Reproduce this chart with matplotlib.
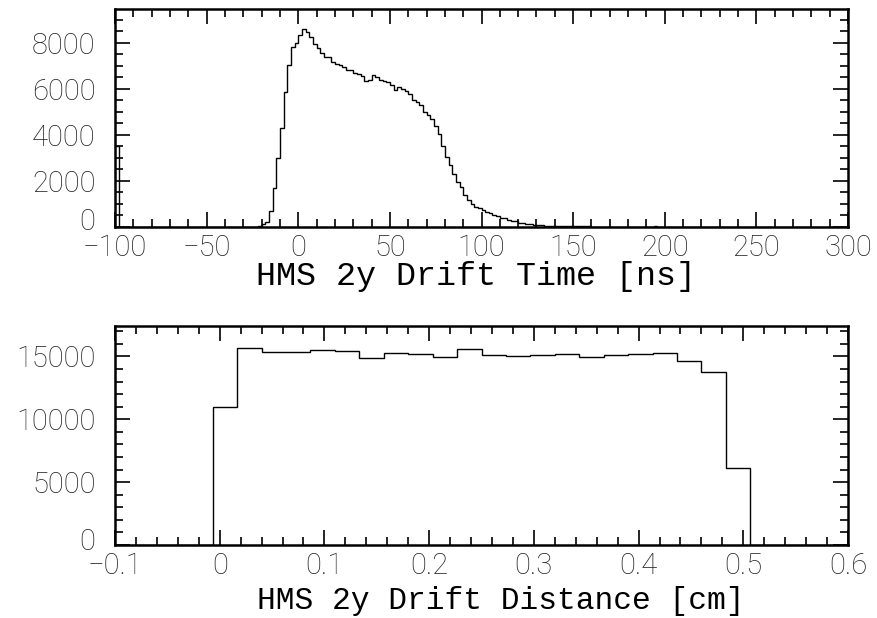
import numpy as np
import matplotlib
matplotlib.use("Agg")
import matplotlib.pyplot as plt
import matplotlib.transforms as mtrans
from matplotlib.ticker import MultipleLocator

# ---------------- data ----------------
time_range = (-100, 300)          # ns
time_nbins = 200                  # 2 ns bins
time_counts = [
    3530, 0, 0, 0, 0, 0, 0, 0, 0, 0,            # -100 .. -80
    0, 0, 0, 0, 0, 0, 0, 0, 0, 0,               # -80 .. -60
    0, 0, 0, 0, 0, 0, 0, 0, 0, 0,               # -60 .. -40
    0, 0, 0, 0, 0, 0, 0, 0, 10, 40,             # -40 .. -20
    115, 231, 694, 1678, 3010, 4282, 5842, 7031, 7812, 7971,   # -20 .. 0
    8333, 8593, 8477, 8260, 7928, 7783, 7538, 7392, 7378, 7174,  # 0 .. 20
    7080, 7014, 6928, 6826, 6800, 6700, 6638, 6565, 6348, 6391,  # 20 .. 40
    6609, 6493, 6391, 6348, 6275, 6174, 5957, 6058, 6000, 5913,  # 40 .. 60
    5768, 5522, 5420, 5305, 5000, 4850, 4710, 4376, 4058, 3507,  # 60 .. 80
    3043, 2681, 2319, 1956, 1739, 1377, 1188, 1014, 880, 840,    # 80 .. 100
    725, 640, 600, 536, 464, 410, 380, 319, 270, 240,            # 100 .. 120
    190, 170, 150, 120, 100, 85, 70, 60, 50, 45,                 # 120 .. 140
    40, 38, 35, 33, 30, 28, 26, 25, 24, 22,                      # 140 .. 160
    20, 19, 18, 17, 16, 15, 14, 14, 13, 12,                      # 160 .. 180
    12, 11, 10, 10, 9, 9, 8, 30, 8, 6,                           # 180 .. 200
    0, 0, 0, 0, 0, 0, 0, 0, 0, 0,                                # 200 .. 220
    0, 0, 0, 0, 0, 0, 0, 0, 0, 0,
    0, 0, 0, 0, 0, 0, 0, 0, 0, 0,
    0, 0, 0, 0, 0, 0, 0, 0, 0, 0,
    0, 0, 0, 0, 0, 0, 0, 0, 0, 0,
]
time_ymax = 9465

dist_range = (-0.1, 0.6)          # cm
dist_nbins = 30
dist_counts = [
    0, 0, 0, 0, 11000, 15690, 15370, 15370, 15530, 15470,
    14910, 15310, 15180, 14990, 15630, 15100, 15020, 15100, 15180, 14940,
    15100, 15180, 15290, 14670, 13740, 6110, 0, 0, 0, 0,
]
dist_ymax = 17420

time_xticks = [-100, -50, 0, 50, 100, 150, 200, 250, 300]
time_yticks = [0, 2000, 4000, 6000, 8000]
dist_xticks = [-0.1, 0, 0.1, 0.2, 0.3, 0.4, 0.5, 0.6]
dist_yticks = [0, 5000, 10000, 15000]

time_title = "HMS 2y Drift Time [ns]"
dist_title = "HMS 2y Drift Distance [cm]"

# ---------------- figure ----------------
W, H = 877, 618
fig = plt.figure(figsize=(W / 100, H / 100), dpi=100)

tick_font = dict(family="Roboto", weight="light", size=21, color="#222222")


def px_axes(left, top, right, bottom):
    return fig.add_axes([left / W, 1 - bottom / H, (right - left) / W, (bottom - top) / H])


def style(ax, xmaj, xmin, ymaj, ymin):
    for s in ax.spines.values():
        s.set_linewidth(1.8)
    ax.xaxis.set_major_locator(MultipleLocator(xmaj))
    ax.xaxis.set_minor_locator(MultipleLocator(xmin))
    ax.yaxis.set_major_locator(MultipleLocator(ymaj))
    ax.yaxis.set_minor_locator(MultipleLocator(ymin))
    ax.tick_params(which="both", direction="in", top=True, right=True, width=1.2)
    ax.tick_params(which="major", length=11)
    ax.tick_params(which="minor", length=5.5)
    ax.tick_params(axis="x", which="major", pad=5)
    ax.tick_params(axis="y", which="major", pad=14)


def lift_zero(ax, pts):
    lab = ax.get_yticklabels()[0]
    lab.set_transform(lab.get_transform() +
                      mtrans.ScaledTranslation(0, pts / 72, fig.dpi_scale_trans))


def minus(v, fmt):
    s = fmt.format(v)
    return s.replace("-", "\u2212")


# Top panel: drift time
ax1 = px_axes(115, 9, 848, 227)
edges_t = np.linspace(time_range[0], time_range[1], time_nbins + 1)
ax1.stairs(time_counts, edges_t, color="black", lw=1.0, baseline=None)
ax1.set_xlim(*time_range)
ax1.set_ylim(0, time_ymax)
style(ax1, 50, 10, 2000, 500)
ax1.set_xticks(time_xticks)
ax1.set_xticklabels([minus(v, "{:d}") for v in time_xticks], fontdict=tick_font)
ax1.set_yticks(time_yticks)
ax1.set_yticklabels([str(v) for v in time_yticks], fontdict=tick_font)
lift_zero(ax1, 6)
ax1.set_xlabel(time_title, family="Liberation Mono", size=24)
ax1.xaxis.set_label_coords((476 - 115) / 733, -0.228)
ax1.xaxis.label.set_verticalalignment("center")

# Bottom panel: drift distance
ax2 = px_axes(115, 326, 848, 545)
edges_d = np.linspace(dist_range[0], dist_range[1], dist_nbins + 1)
ax2.stairs(dist_counts, edges_d, color="black", lw=1.0, baseline=None)
ax2.set_xlim(*dist_range)
ax2.set_ylim(0, dist_ymax)
style(ax2, 0.1, 0.02, 5000, 1000)
ax2.set_xticks(dist_xticks)
ax2.set_xticklabels([minus(v, "{:.1f}") if v != 0 else "0" for v in dist_xticks], fontdict=tick_font)
ax2.set_yticks(dist_yticks)
ax2.set_yticklabels([str(v) for v in dist_yticks], fontdict=tick_font)
lift_zero(ax2, 4)
ax2.set_xlabel(dist_title, family="Liberation Mono", size=22.5)
ax2.xaxis.set_label_coords((501 - 115) / 733, -0.255)
ax2.xaxis.label.set_verticalalignment("center")

fig.savefig("out.png", dpi=100)
